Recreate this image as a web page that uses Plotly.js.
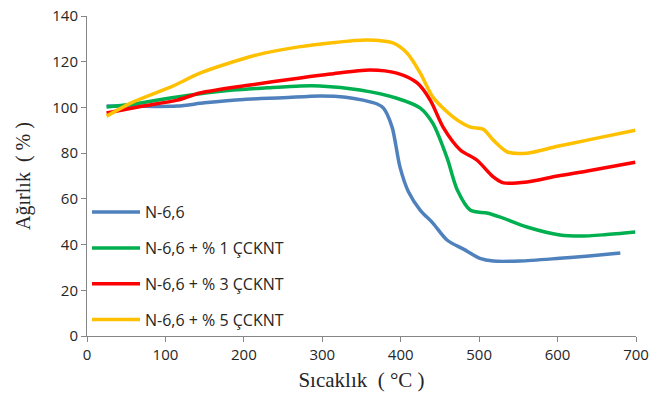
<!DOCTYPE html>
<html><head><meta charset="utf-8">
<script src="https://cdn.plot.ly/plotly-3.0.1.min.js"></script>
<style>html,body{margin:0;padding:0;background:#fff}#c{width:652px;height:403px}</style>
</head><body><div id="c"></div>
<script>
const seriesNames = ["N-6,6", "N-6,6 + % 1 ÇCKNT", "N-6,6 + % 3 ÇCKNT", "N-6,6 + % 5 ÇCKNT"];
const tempN66 = [25, 60, 115, 150, 200, 250, 297, 330, 352, 370, 378, 389, 399, 410, 425, 441, 459, 480, 501, 518, 552, 603, 640, 680];
const massN66 = [100.6, 100.5, 100.6, 102, 103.5, 104.2, 105, 104.5, 103.2, 101.5, 99.7, 91.4, 74, 63, 55, 49.4, 42, 38, 34, 32.8, 32.8, 34, 35, 36.3];
const temp1 = [25, 60, 115, 186, 230, 272, 297, 348, 395, 425, 441, 459, 472, 489, 510, 527, 561, 603, 629, 660, 699];
const mass1 = [100.2, 101.5, 104.6, 107.6, 108.6, 109.4, 109.4, 107.6, 104, 99.7, 93, 78, 64, 55, 53.8, 52, 47.7, 44.2, 43.7, 44.3, 45.5];
const temp3 = [25, 70, 115, 144, 208, 272, 310, 361, 395, 421, 438, 454, 476, 497, 518, 531, 561, 600, 638, 699];
const mass3 = [97.6, 100.5, 103.2, 106.3, 109.8, 112.9, 114.6, 116.4, 115, 110.7, 103, 91.4, 81.4, 77, 69.6, 67, 67.4, 70, 72.2, 76];
const temp5 = [25, 59, 110, 144, 217, 270, 310, 357, 390, 408, 425, 441, 467, 489, 505, 518, 536, 561, 600, 638, 699];
const mass5 = [96.2, 102.4, 109.4, 115, 123, 126.5, 128.2, 129.5, 128.2, 123.8, 115, 104.5, 95.8, 91.4, 90.5, 85.7, 80.5, 80, 83, 85.7, 90];
const xTicks = [0, 100, 200, 300, 400, 500, 600, 700];
const yTicks = [0, 20, 40, 60, 80, 100, 120, 140];

const colors = ["#4f81bd", "#00b050", "#ff0000", "#ffc000"];
const xs = [tempN66, temp1, temp3, temp5];
const ys = [massN66, mass1, mass3, mass5];
const data = xs.map((x, i) => ({
  x: x, y: ys[i], name: seriesNames[i], type: "scatter", mode: "lines",
  line: {color: colors[i], width: 3.5, shape: "spline", smoothing: 0.8},
  legendgroup: "g" + i
}));
const axisCommon = {
  showgrid: false, zeroline: false, showline: true, linecolor: "#868686", linewidth: 1,
  ticks: "outside", ticklen: 5, tickcolor: "#868686",
  tickfont: {family: "Open Sans, Liberation Sans, sans-serif", size: 15, color: "#262626"}
};
const layout = {
  width: 652, height: 403,
  margin: {l: 87, r: 16, t: 16, b: 67},
  paper_bgcolor: "#fff", plot_bgcolor: "#fff",
  xaxis: Object.assign({}, axisCommon, {
    range: [0, 700], tickvals: xTicks,
    title: {text: "Sıcaklık\u00a0\u00a0(\u00a0°C\u00a0)", font: {family: "Liberation Serif, serif", size: 21, color: "#262626"}, standoff: 9}
  }),
  yaxis: Object.assign({}, axisCommon, {
    range: [0, 140], tickvals: yTicks,
    title: {text: "Ağırlık\u00a0\u00a0(\u00a0%\u00a0)", font: {family: "Liberation Serif, serif", size: 20, color: "#262626"}, standoff: 16}
  }),
  showlegend: true,
  legend: {
    x: 0.0, y: 0.44, xanchor: "left", yanchor: "top",
    bgcolor: "rgba(0,0,0,0)", traceorder: "grouped", tracegroupgap: 12,
    font: {family: "Open Sans, Liberation Sans, sans-serif", size: 16, color: "#262626"},
    itemwidth: 48
  }
};
Plotly.newPlot("c", data, layout, {staticPlot: true, displayModeBar: false});
</script>
</body></html>
